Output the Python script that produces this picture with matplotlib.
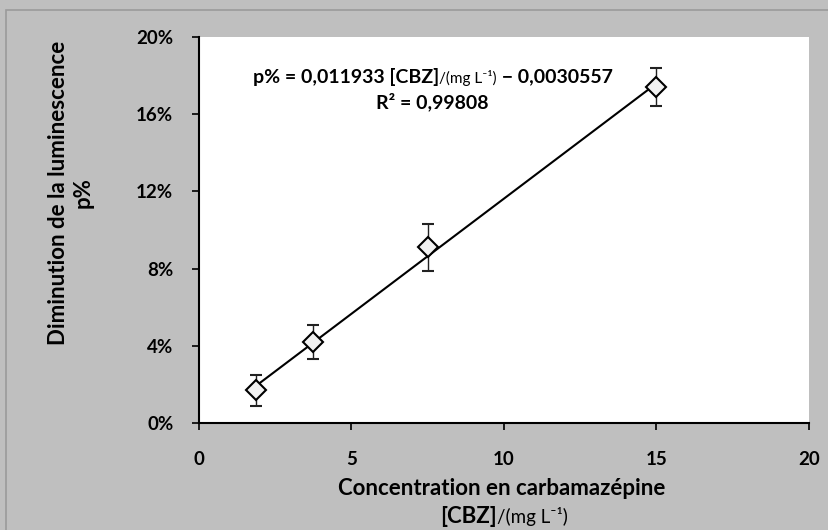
import numpy as np
import matplotlib
matplotlib.use("Agg")
import matplotlib.pyplot as plt
from matplotlib.patches import Rectangle
from matplotlib.ticker import PercentFormatter

plt.rcParams["font.family"] = ["Lato", "DejaVu Sans"]

# data
conc_mg_l = [1.875, 3.75, 7.5, 15.0]
p_frac = [0.017, 0.042, 0.091, 0.174]
p_err = [0.008, 0.009, 0.012, 0.010]
fit_slope = 0.011933
fit_intercept = -0.0030557
x_ticks = [0, 5, 10, 15, 20]
y_ticks = [0.0, 0.04, 0.08, 0.12, 0.16, 0.20]

W, H = 829, 530
BG = "#BFBFBF"
TICK_FS = 13.5
LABEL_FS = 16
EQ_FS = 14

fig = plt.figure(figsize=(W / 100, H / 100), dpi=100, facecolor=BG)
fig.patches.append(Rectangle((6 / W, -0.1), 1.2, 1 - 10 / H + 0.1, transform=fig.transFigure,
                             facecolor="none", edgecolor="#9A9A9A", linewidth=1.2))

ax = fig.add_axes([199 / W, 1 - 423 / H, 610 / W, (423 - 37) / H])
ax.set_facecolor("white")

xf = np.array([conc_mg_l[0], conc_mg_l[-1]])
ax.plot(xf, fit_slope * xf + fit_intercept, color="black", linewidth=1.5, zorder=2)
ax.errorbar(conc_mg_l, p_frac, yerr=p_err, fmt="D", markersize=10, markerfacecolor="#F2F2F2",
            markeredgecolor="black", markeredgewidth=1.5, ecolor="#222222", elinewidth=1.0,
            capsize=4, capthick=1.0, zorder=3)

ax.set_xlim(0, 20)
ax.set_ylim(0, 0.20)
ax.set_xticks(x_ticks)
ax.set_yticks(y_ticks)
ax.yaxis.set_major_formatter(PercentFormatter(xmax=1, decimals=0))
ax.tick_params(direction="out", length=5, width=1.2, labelsize=TICK_FS)
ax.tick_params(axis="y", pad=13.5)
ax.tick_params(axis="x", pad=15)
for lab in ax.get_xticklabels() + ax.get_yticklabels():
    lab.set_fontweight("bold")
for s in ("top", "right"):
    ax.spines[s].set_visible(False)
for s in ("left", "bottom"):
    ax.spines[s].set_linewidth(1.5)

fig.text(71 / W, 1 - 193 / H, "Diminution de la luminescence\np%", rotation=90,
         ha="center", va="center", multialignment="center", fontsize=LABEL_FS,
         fontweight="bold", linespacing=1.2)

renderer = fig.canvas.get_renderer()


def draw_runs(runs, xc, yc):
    """Draw text pieces side by side, centred on (xc, yc) in pixels from top-left."""
    texts = []
    for s, size, weight in runs:
        t = fig.text(0, 0, s, fontsize=size, fontweight=weight, ha="left", va="baseline")
        texts.append(t)
    widths = [t.get_window_extent(renderer).width for t in texts]
    x = xc - sum(widths) / 2
    for t, w in zip(texts, widths):
        t.set_position((x / W, 1 - (yc + runs[0][1] * 0.4) / H))
        x += w


draw_runs([("p% = 0,011933 [CBZ]", EQ_FS, "bold"), ("/(mg L\u207b\u00b9)", 11, "normal"),
           (" \u2212 0,0030557", EQ_FS, "bold")], 433, 77)
draw_runs([("R\u00b2 = 0,99808", EQ_FS, "bold")], 432, 103)
draw_runs([("Concentration en carbamaz\u00e9pine", LABEL_FS, "bold")], 502, 489)
draw_runs([("[CBZ]", LABEL_FS, "bold"), ("/(mg L\u207b\u00b9)", 13.5, "normal")], 504, 517)

fig.savefig("out.png", dpi=100, facecolor=BG)
